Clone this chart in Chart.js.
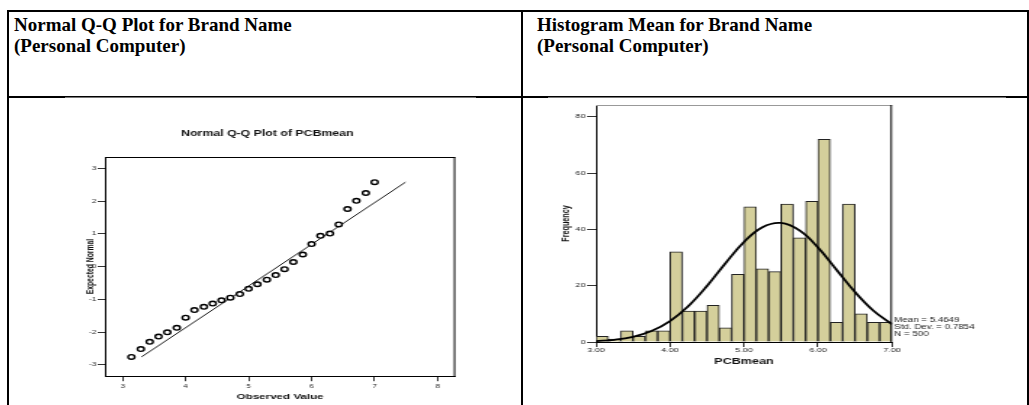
<!DOCTYPE html>
<html>
<head>
<meta charset="utf-8">
<title>PCBmean</title>
<script src="https://cdn.jsdelivr.net/npm/chart.js@4.4.1/dist/chart.umd.min.js"></script>
<style>
  body { margin: 0; width: 1029px; height: 405px; overflow: hidden; background: #fff; position: relative; }
  .linha { position: absolute; background: #000; }
  .cab { position: absolute; font: bold 19px "Liberation Serif", "Times New Roman", serif; line-height: 21px; color: #000; white-space: nowrap; }
  .graf { position: absolute; transform-origin: 0 0; }
</style>
</head>
<body>

<!-- table frame -->
<div class="linha" style="left:7px;top:10px;width:1022px;height:2px"></div>
<div class="linha" style="left:7px;top:10px;width:2px;height:400px"></div>
<div class="linha" style="left:521px;top:10px;width:2px;height:400px"></div>
<div class="linha" style="left:1027px;top:10px;width:2px;height:400px"></div>
<div class="linha" style="left:7px;top:96px;width:1022px;height:2px"></div>
<!-- picture edges over the row line -->
<div class="linha" style="left:65px;top:97px;width:411px;height:1px;background:#777"></div>
<div class="linha" style="left:548px;top:97px;width:458px;height:1px;background:#777"></div>

<div class="cab" style="left:14px;top:14px">Normal Q-Q Plot for Brand Name<br>(Personal Computer)</div>
<div class="cab" style="left:537px;top:14px">Histogram Mean for Brand Name<br>(Personal Computer)</div>

<div class="graf" style="left:60px;top:99px;transform:scaleX(1.45)">
  <canvas id="qq" width="278" height="307"></canvas>
</div>
<div class="graf" style="left:548px;top:99px;transform:scaleX(1.5)">
  <canvas id="hist" width="300" height="270"></canvas>
</div>

<script>
// Q-Q plot: observed PCB means vs expected normal value
let qqObserved = [3.14, 3.29, 3.43, 3.57, 3.71, 3.86, 4.00, 4.14, 4.29, 4.43, 4.57, 4.71, 4.86, 5.00,
                  5.14, 5.29, 5.43, 5.57, 5.71, 5.86, 6.00, 6.14, 6.29, 6.43, 6.57, 6.71, 6.86, 7.00];
let qqExpected = [-2.76, -2.52, -2.30, -2.14, -2.01, -1.87, -1.56, -1.33, -1.23, -1.13, -1.03, -0.95, -0.84, -0.68,
                  -0.54, -0.40, -0.26, -0.08, 0.14, 0.37, 0.69, 0.94, 1.01, 1.29, 1.76, 2.01, 2.25, 2.58];
let qqLineX = [3.30, 7.49];
let qqLineY = [-2.76, 2.58];
let qqXTicks = [3, 4, 5, 6, 7, 8];
let qqYTicks = [-3, -2, -1, 0, 1, 2, 3];

// histogram of PCBmean, bins of 1/6
let binMids = [3.0833, 3.25, 3.4167, 3.5833, 3.75, 3.9167, 4.0833, 4.25, 4.4167, 4.5833, 4.75, 4.9167,
               5.0833, 5.25, 5.4167, 5.5833, 5.75, 5.9167, 6.0833, 6.25, 6.4167, 6.5833, 6.75, 6.9167];
let freq = [2, 1, 4, 2, 4, 4, 32, 11, 11, 13, 5, 24, 48, 26, 25, 49, 37, 50, 72, 7, 49, 10, 7, 7];
// normal curve
let curveX = [3.0, 3.25, 3.5, 3.75, 4.0, 4.25, 4.5, 4.75, 5.0, 5.25, 5.5, 5.75, 6.0, 6.25, 6.5, 6.75, 7.0];
let curveY = [0.31, 0.79, 1.85, 3.90, 7.44, 12.80, 19.90, 27.98, 35.53, 40.78, 42.29, 39.63, 33.56, 25.68, 17.76, 11.10, 6.27];
let histXTicks = [3, 4, 5, 6, 7];
let histXLabels = ['3.00', '4.00', '5.00', '6.00', '7.00'];
let histYTicks = [0, 20, 40, 60, 80];
let stats = ['Mean = 5.4649', 'Std. Dev. = 0.7854', 'N = 500'];

Chart.defaults.font.family = '"Liberation Sans", Arial, sans-serif';
Chart.defaults.color = '#222';

// frame on top and right of the plot area
var moldura = {
  id: 'moldura',
  afterDraw(chart, args, opts) {
    const ctx = chart.ctx, a = chart.chartArea;
    ctx.save();
    ctx.lineWidth = 1;
    ctx.strokeStyle = opts.top;
    ctx.beginPath(); ctx.moveTo(a.left, a.top + 0.5); ctx.lineTo(a.right, a.top + 0.5); ctx.stroke();
    ctx.strokeStyle = opts.right;
    ctx.beginPath(); ctx.moveTo(a.right - 0.5, a.top); ctx.lineTo(a.right - 0.5, a.bottom); ctx.stroke();
    ctx.restore();
  }
};

// mean / sd / n next to the histogram
var resumo = {
  id: 'resumo',
  afterDraw(chart) {
    const ctx = chart.ctx, a = chart.chartArea;
    ctx.save();
    ctx.font = '6.5px "Liberation Sans", Arial, sans-serif';
    ctx.fillStyle = '#222';
    ctx.textBaseline = 'middle';
    stats.forEach((t, i) => ctx.fillText(t, a.right + 1.5, a.bottom - 22 + i * 7));
    ctx.restore();
  }
};

function eixo(ticks, extra) {
  return Object.assign({
    type: 'linear',
    afterBuildTicks: s => { s.ticks = ticks.map(v => ({ value: v })); },
    grid: { drawOnChartArea: false, drawTicks: true, tickLength: 5, color: '#333', lineWidth: 1 },
    border: { display: true, color: '#000', width: 1 }
  }, extra);
}

new Chart(document.getElementById('qq'), {
  type: 'scatter',
  data: {
    datasets: [{
      data: qqObserved.map((x, i) => ({ x: x, y: qqExpected[i] })),
      pointRadius: 2.3,
      borderWidth: 1.4,
      borderColor: '#000',
      backgroundColor: '#fff'
    }, {
      data: qqLineX.map((x, i) => ({ x: x, y: qqLineY[i] })),
      showLine: true,
      pointRadius: 0,
      borderWidth: 0.9,
      borderColor: '#000'
    }]
  },
  options: {
    responsive: false,
    animation: false,
    events: [],
    layout: { padding: { left: 10, right: 2, top: 0, bottom: 4 } },
    plugins: {
      legend: { display: false },
      tooltip: { enabled: false },
      title: {
        display: true,
        text: 'Normal Q-Q Plot of PCBmean',
        color: '#111',
        font: { size: 8.5, weight: 'bold' },
        padding: { top: 29.4, bottom: 18.4 }
      },
      moldura: { top: '#000', right: '#000' }
    },
    scales: {
      x: eixo(qqXTicks, {
        position: 'bottom', min: 2.72, max: 8.28,
        ticks: { font: { size: 5.5 }, padding: 2, maxRotation: 0, autoSkip: false, color: '#222' },
        title: { display: true, text: 'Observed Value', color: '#111', font: { size: 8, weight: 'bold' }, padding: 0 },
        afterFit: s => { s.height = 25.8; }
      }),
      y: eixo(qqYTicks, {
        min: -3.35, max: 3.35,
        ticks: { font: { size: 5.5 }, padding: 1, color: '#222' },
        title: { display: true, text: 'Expected Normal', color: '#111', font: { size: 6.8, weight: 'bold' }, padding: { top: 6.6, bottom: 0 } },
        afterFit: s => { s.width = 21; }
      })
    }
  },
  plugins: [moldura]
});

new Chart(document.getElementById('hist'), {
  type: 'bar',
  data: {
    datasets: [{
      type: 'line',
      order: 0,
      data: curveX.map((x, i) => ({ x: x, y: curveY[i] })),
      borderColor: '#000',
      borderWidth: 1.8,
      pointRadius: 0,
      tension: 0.4,
      fill: false
    }, {
      order: 1,
      data: binMids.map((x, i) => ({ x: x, y: freq[i] })),
      backgroundColor: '#d4cf9b',
      borderColor: '#222',
      borderWidth: 1,
      barPercentage: 1,
      categoryPercentage: 1
    }]
  },
  options: {
    responsive: false,
    animation: false,
    events: [],
    layout: { padding: { left: 4, right: 70.7, top: 6, bottom: 2.3 } },
    plugins: {
      legend: { display: false },
      tooltip: { enabled: false },
      moldura: { top: '#999', right: '#000' }
    },
    scales: {
      x: eixo(histXTicks, {
        position: 'bottom', min: 3, max: 7, offset: false,
        grid: { offset: false, drawOnChartArea: false, drawTicks: true, tickLength: 5, color: '#333', lineWidth: 1 },
        ticks: { font: { size: 6 }, padding: 0, maxRotation: 0, autoSkip: false, color: '#222',
                 callback: (v, i) => histXLabels[i] },
        title: { display: true, text: 'PCBmean', color: '#111', font: { size: 8.4, weight: 'bold' }, padding: 0 },
        afterFit: s => { s.height = 24.7; }
      }),
      y: eixo(histYTicks, {
        min: 0, max: 84.2,
        grid: { drawOnChartArea: false, drawTicks: true, tickLength: 6, color: '#333', lineWidth: 1 },
        ticks: { font: { size: 6 }, padding: 1, color: '#222' },
        title: { display: true, text: 'Frequency', color: '#111', font: { size: 7.2, weight: 'bold' }, padding: { top: 4.2, bottom: 0 } },
        afterFit: s => { s.width = 28; }
      })
    }
  },
  plugins: [moldura, resumo]
});
</script>
</body>
</html>
